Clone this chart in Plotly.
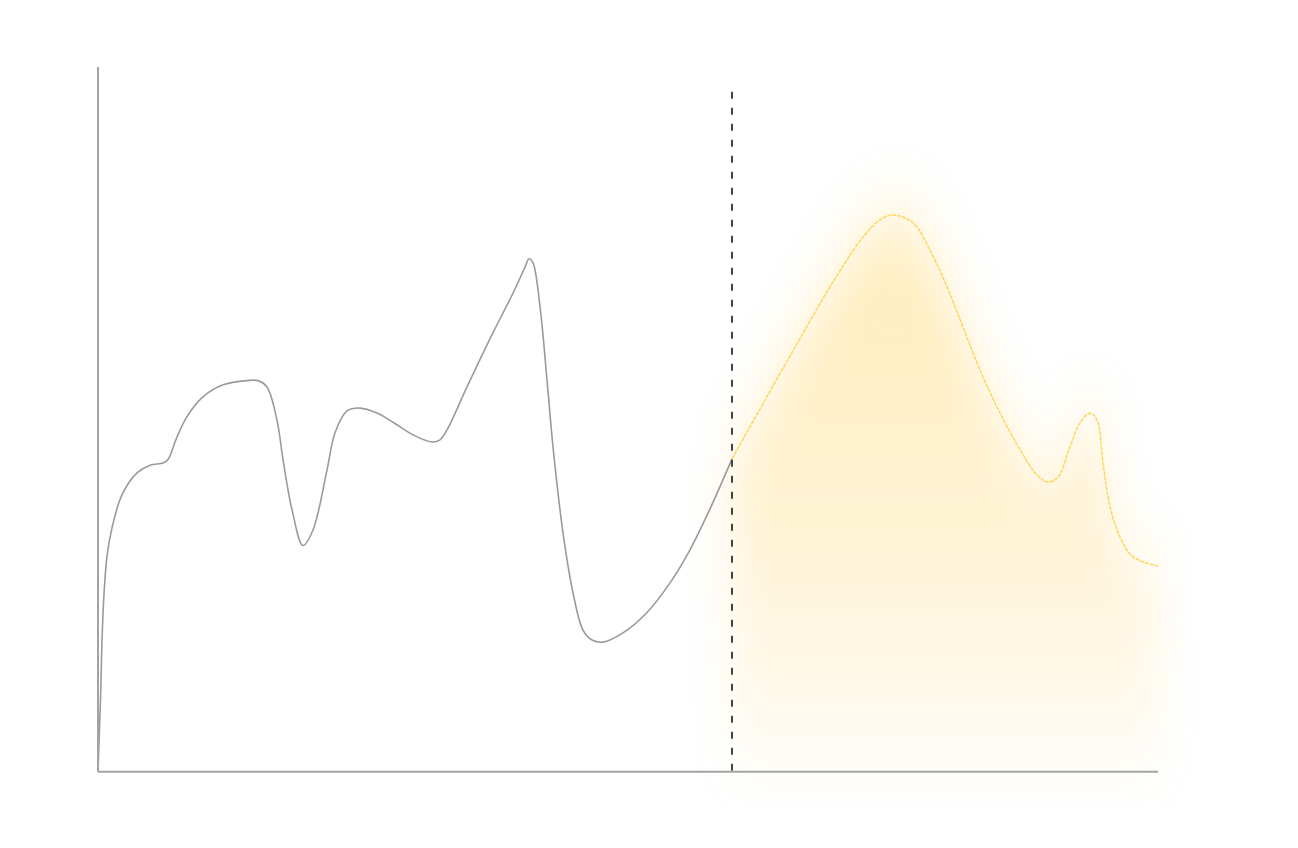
import plotly.graph_objects as go

# ---- data (x: time units, y: value units) ----
hist_x = [0, 0.25, 0.4, 0.6, 0.9, 1.4, 2.4, 3.9, 5.2, 6.5, 7.0, 7.9, 8.9, 10.5, 12.5,
          14.9, 16.0, 16.9, 17.9, 18.5, 19.4, 20.5, 21.5, 22.9, 23.7, 24.9, 26.2,
          27.9, 29.5, 31.5, 33.4, 34.2, 34.9, 36.9, 39.5, 41.5, 42.7, 43.1, 43.5, 44.2,
          44.9, 45.5, 46.5, 47.5, 48.5, 49.4, 50.5, 52.5, 54.9, 57.2, 59.2, 61.2, 63.4]
hist_y = [0, 10.2, 18.7, 25.2, 30.6, 34.6, 39.3, 42.4, 43.5, 43.8, 44.3, 47.5, 50.4, 53.2, 54.9,
          55.5, 55.5, 54.6, 49.9, 44.3, 37.2, 32.1, 34.3, 42.8, 48.1, 51.2, 51.6,
          50.9, 49.6, 47.8, 46.8, 47.1, 48.5, 54.6, 62.3, 67.9, 71.6, 72.8, 72.2, 66.0,
          55.6, 46.1, 33.9, 25.4, 20.1, 18.7, 18.4, 19.7, 22.6, 26.8, 31.5, 37.3, 44.4]

fc_x = [63.4, 64.9, 66.5, 68.2, 69.9, 71.5, 73.2, 74.9, 76.5, 78.2, 79.5, 81.5, 83.2,
        84.9, 86.5, 88.2, 90.2, 92.2, 93.9, 95.0, 96.0, 97.2, 98.2, 99.2, 99.9,
        100.5, 101.2, 102.2, 103.5, 106.0]
fc_y = [44.4, 48.2, 52.2, 56.5, 60.7, 64.7, 68.8, 72.6, 75.9, 78.3, 79.0, 77.9, 74.0,
        68.8, 63.1, 57.0, 50.9, 45.7, 42.1, 41.1, 41.8, 46.1, 49.5, 50.9, 49.9,
        43.8, 37.6, 33.3, 30.5, 29.2]

now_x = 63.4
now_top = 96.5
y_axis_top = 100

# ---- styling ----
AXIS_COLOR = "#A3A3A3"
HIST_COLOR = "#9A9A9A"
FC_COLOR = "#FFD453"
NOW_COLOR = "#444444"
SMOOTH = 1.0

fig = go.Figure()

# glow under the forecast (blurred in the page by an SVG filter)
def rgba(al):
    return f"rgba(255,200,60,{al})"
cscale = [[0.0, rgba(0.03)], [0.1, rgba(0.09)], [0.3, rgba(0.17)], [0.5, rgba(0.23)],
          [0.7, rgba(0.29)], [0.8, rgba(0.31)], [1.0, rgba(0.31)]]
fig.add_trace(go.Scatter(
    x=fc_x, y=fc_y, mode="lines", line=dict(width=0, shape="spline", smoothing=SMOOTH),
    fill="tozeroy",
    fillgradient=dict(type="vertical", start=0, stop=80, colorscale=cscale),
    hoverinfo="skip", showlegend=False))

fig.add_trace(go.Scatter(x=hist_x, y=hist_y, mode="lines",
                         line=dict(color=HIST_COLOR, width=1.6, shape="spline", smoothing=SMOOTH),
                         showlegend=False))
fig.add_trace(go.Scatter(x=fc_x, y=fc_y, mode="lines",
                         line=dict(color=FC_COLOR, width=1.4, shape="spline", smoothing=SMOOTH,
                                   dash="4px,1px"),
                         showlegend=False))
fig.add_trace(go.Scatter(x=[now_x, now_x], y=[now_top, 0], mode="lines",
                         line=dict(color=NOW_COLOR, width=2, dash="7px,9px"),
                         showlegend=False))

# axis lines
fig.add_shape(type="line", x0=0, x1=fc_x[-1], y0=0, y1=0, xref="x", yref="y",
              line=dict(color=AXIS_COLOR, width=2), layer="above")
fig.add_shape(type="line", x0=0, x1=0, y0=0, y1=y_axis_top, xref="x", yref="y",
              line=dict(color=AXIS_COLOR, width=2), layer="above")

fig.update_layout(
    width=1282, height=832,
    margin=dict(l=80, r=92, t=59, b=33),
    paper_bgcolor="white", plot_bgcolor="white",
    showlegend=False,
    xaxis=dict(range=[-1, 110], showgrid=False, zeroline=False, showline=False,
               showticklabels=False, ticks=""),
    yaxis=dict(range=[-5, 100], showgrid=False, zeroline=False, showline=False,
               showticklabels=False, ticks=""),
)

post = """
var gd = document.getElementById('{plot_id}');
function blurGlow(){
  var svg = gd.querySelector('svg.main-svg');
  if(!svg) return;
  var NS = 'http://www.w3.org/2000/svg';
  if(!document.getElementById('glowblur')){
    var defs = svg.querySelector('defs');
    var f = document.createElementNS(NS, 'filter');
    f.setAttribute('id', 'glowblur');
    f.setAttribute('x', '-50%'); f.setAttribute('y', '-50%');
    f.setAttribute('width', '200%'); f.setAttribute('height', '200%');
    var b = document.createElementNS(NS, 'feGaussianBlur');
    b.setAttribute('stdDeviation', '20 34');
    f.appendChild(b); defs.appendChild(f);
  }
  var tr = gd.querySelector('.scatterlayer .trace');
  if(tr){ tr.querySelectorAll('path.js-fill').forEach(function(p){ p.setAttribute('filter', 'url(#glowblur)'); }); }
}
blurGlow();
gd.on('plotly_afterplot', blurGlow);
"""
fig.write_html("out.html", post_script=post)
